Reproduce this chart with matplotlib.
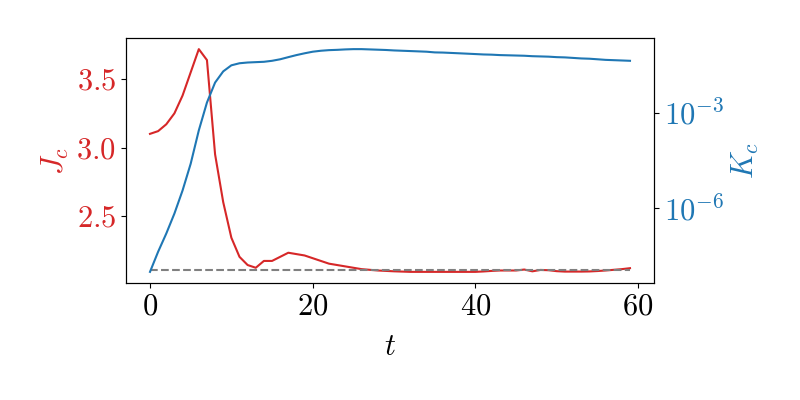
import matplotlib
matplotlib.use("Agg")
import matplotlib.pyplot as plt
from matplotlib.ticker import NullLocator

plt.rcParams["font.family"] = "serif"
plt.rcParams["font.serif"] = ["cmr10"]
plt.rcParams["mathtext.fontset"] = "cm"
plt.rcParams["axes.formatter.use_mathtext"] = True
plt.rcParams["font.size"] = 22

t = list(range(60))
J_c = [3.10, 3.12, 3.17, 3.25, 3.38, 3.55, 3.72, 3.64, 2.95, 2.60,
       2.34, 2.20, 2.14, 2.12, 2.17, 2.17, 2.20, 2.23, 2.22, 2.21,
       2.19, 2.17, 2.15, 2.14, 2.13, 2.12, 2.11, 2.105, 2.10, 2.097,
       2.094, 2.092, 2.09, 2.09, 2.09, 2.09, 2.09, 2.09, 2.09, 2.09,
       2.09, 2.093, 2.097, 2.10, 2.10, 2.10, 2.107, 2.094, 2.104, 2.102,
       2.095, 2.092, 2.092, 2.092, 2.093, 2.096, 2.10, 2.105, 2.11, 2.117]
K_c = [1.0e-8, 4.3e-8, 1.6e-7, 6.8e-7, 3.6e-6, 2.5e-5, 2.8e-4, 2.1e-3, 8.9e-3, 2.0e-2,
       3.1e-2, 3.6e-2, 3.8e-2, 3.9e-2, 4.0e-2, 4.3e-2, 4.8e-2, 5.6e-2, 6.5e-2, 7.4e-2,
       8.3e-2, 8.9e-2, 9.3e-2, 9.5e-2, 9.8e-2, 1.0e-1, 1.0e-1, 9.8e-2, 9.6e-2, 9.4e-2,
       9.1e-2, 8.9e-2, 8.7e-2, 8.5e-2, 8.3e-2, 7.9e-2, 7.8e-2, 7.6e-2, 7.4e-2, 7.2e-2,
       7.0e-2, 6.8e-2, 6.7e-2, 6.5e-2, 6.4e-2, 6.3e-2, 6.2e-2, 6.0e-2, 5.9e-2, 5.8e-2,
       5.6e-2, 5.5e-2, 5.3e-2, 5.1e-2, 5.0e-2, 4.8e-2, 4.6e-2, 4.5e-2, 4.4e-2, 4.3e-2]
J_ref = 2.1
J_ticks = [2.5, 3.0, 3.5]
K_ticks = [1e-6, 1e-3]
x_ticks = [0, 20, 40, 60]

fig, ax = plt.subplots(figsize=(8, 4), dpi=100)
fig.subplots_adjust(left=0.1575, right=0.8175, bottom=0.2925, top=0.905)

ax.plot(t, J_c, color="tab:red", lw=1.5)
ax.hlines(J_ref, t[0], t[-1], colors="gray", linestyles="--", lw=1.5)
ax.set_xlabel("$t$", labelpad=10)
ax.set_ylabel("$J_c$", color="tab:red")
ax.set_yticks(J_ticks)
ax.set_xticks(x_ticks)
ax.tick_params(axis="y", labelcolor="tab:red")

ax2 = ax.twinx()
ax2.plot(t, K_c, color="tab:blue", lw=1.5)
ax2.set_yscale("log")
ax2.set_yticks(K_ticks)
ax2.yaxis.set_minor_locator(NullLocator())
ax2.set_ylabel("$K_c$", color="tab:blue")
ax2.tick_params(axis="y", labelcolor="tab:blue")

fig.savefig("out.png", dpi=100)
